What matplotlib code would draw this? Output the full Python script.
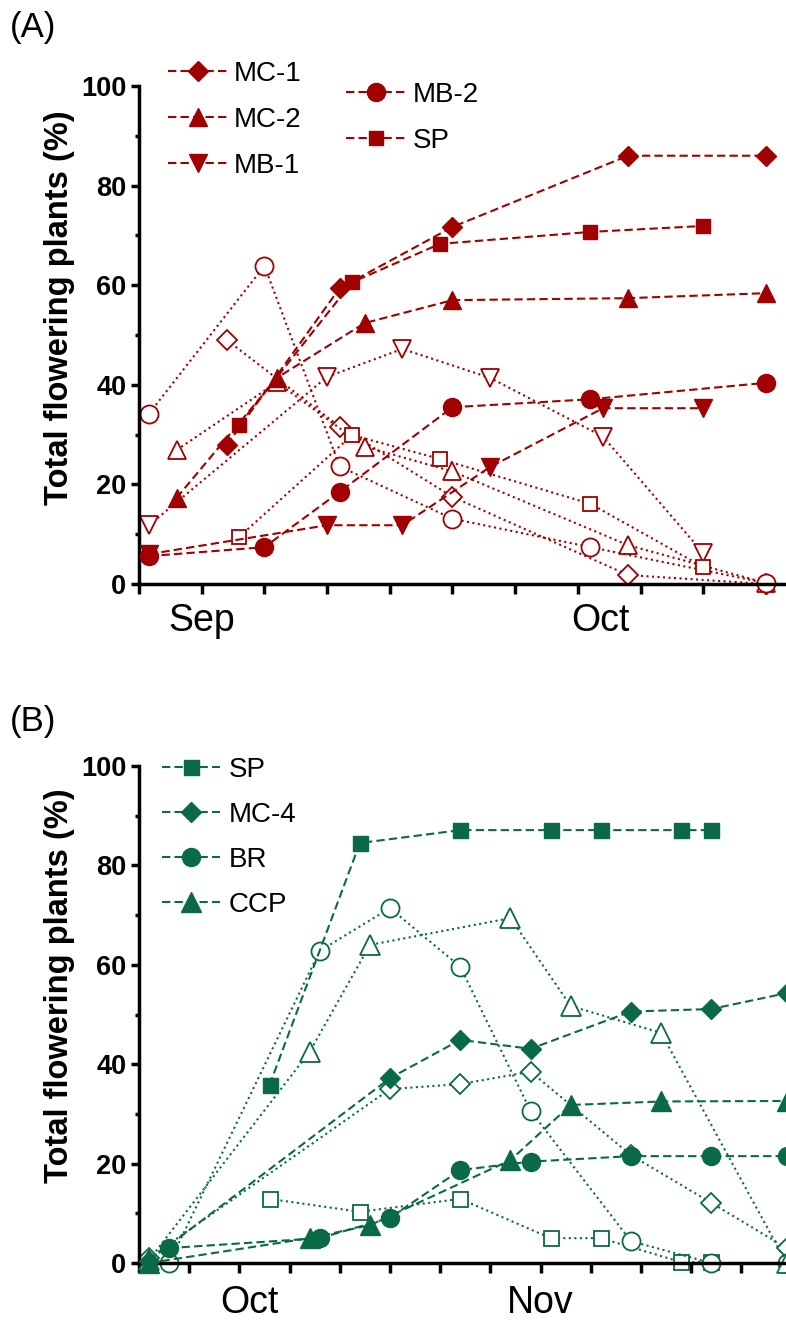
import matplotlib.pyplot as plt
from matplotlib.ticker import MultipleLocator, FixedLocator, NullFormatter

plt.rcParams['font.family'] = ['Liberation Sans', 'DejaVu Sans']

red = '#a00000'
green = '#0a6a45'

# ---- panel A (x = days from first tick) ----
mc1_days = [7, 16, 25, 39, 50]
mc1_fill = [27.9, 59.4, 71.7, 86.0, 86.0]
mc1_open = [49.0, 31.6, 17.5, 1.8, 0.0]

mc2_days = [3, 11, 18, 25, 39, 50]
mc2_fill = [17.3, 41.4, 52.4, 57.0, 57.4, 58.4]
mc2_open = [26.9, 40.5, 27.6, 22.6, 7.8, 0.2]

mb1_days = [0.8, 15, 21, 28, 37, 45]
mb1_fill = [6.0, 11.8, 11.8, 23.5, 35.3, 35.3]
mb1_open = [11.8, 41.6, 47.2, 41.4, 29.6, 6.2]

mb2_days = [0.8, 10, 16, 25, 36, 50]
mb2_fill = [5.6, 7.4, 18.5, 35.5, 37.1, 40.4]
mb2_open = [34.2, 63.9, 23.6, 13.1, 7.4, 0.2]

spA_days = [8, 17, 24, 36, 45]
spA_fill = [32.0, 60.6, 68.3, 70.7, 71.9]
spA_open = [9.5, 29.9, 25.1, 16.1, 3.4]

months_A = ['Sep', 'Oct']
months_A_pos = [5.0, 36.8]

# ---- panel B ----
spB_days = [13, 22, 32, 41, 46, 54, 57]
spB_fill = [35.8, 84.5, 87.1, 87.1, 87.1, 87.1, 87.1]
spB_open = [12.9, 10.3, 12.9, 5.0, 5.0, 0.2, 0.2]

mc4_days = [1, 25, 32, 39, 49, 57, 64.5]
mc4_fill = [0.5, 37.2, 44.9, 43.1, 50.6, 51.1, 54.3]
mc4_open = [1.0, 35.0, 36.0, 38.5, 21.7, 12.1, 3.0]

br_days = [3, 18, 25, 32, 39, 49, 57, 64.5]
br_fill = [3.0, 5.0, 9.1, 18.7, 20.4, 21.5, 21.5, 21.5]
br_open = [0.0, 62.8, 71.4, 59.6, 30.6, 4.4, 0.0, 0.0]

ccp_days = [1, 17, 23, 37, 43, 52, 64.5]
ccp_fill = [0.0, 5.0, 7.6, 20.7, 31.8, 32.5, 32.6]
ccp_open = [0.6, 42.5, 64.0, 69.4, 51.7, 46.3, 0.0]

months_B = ['Oct', 'Nov']
months_B_pos = [11.0, 40.0]

W, H = 786, 1322
fig = plt.figure(figsize=(W / 100, H / 100), dpi=100)


def px_axes(x0, y_top, x1, y_bot):
    return fig.add_axes([x0 / W, 1 - y_bot / H, (x1 - x0) / W, (y_bot - y_top) / H])


def series(ax, x, y, marker, ms, color, filled, label=None):
    if filled:
        return ax.plot(x, y, marker=marker, ms=ms, color=color, mfc=color, mec=color,
                       lw=1.5, dashes=(4, 2), clip_on=False, label=label, zorder=3)[0]
    return ax.plot(x, y, marker=marker, ms=ms, color=color, mfc='white', mec=color,
                   mew=1.3, lw=1.5, ls=':', clip_on=False, zorder=2)[0]


def style(ax, xmax, months, month_pos, lab_pad):
    ax.set_ylim(0, 100)
    ax.set_xlim(0, xmax)
    for s in ['top', 'right']:
        ax.spines[s].set_visible(False)
    for s in ['left', 'bottom']:
        ax.spines[s].set_linewidth(2.5)
    ax.yaxis.set_major_locator(MultipleLocator(20))
    ax.yaxis.set_minor_locator(MultipleLocator(10))
    ax.tick_params(axis='y', which='major', length=6, width=2.5, labelsize=19.5, pad=3)
    ax.tick_params(axis='y', which='minor', length=3, width=2.5)
    for lbl in ax.get_yticklabels():
        lbl.set_fontweight('bold')
    ax.xaxis.remove_overlapping_locs = False
    ax.xaxis.set_major_locator(MultipleLocator(5))
    ax.xaxis.set_major_formatter(NullFormatter())
    ax.xaxis.set_minor_locator(FixedLocator(month_pos))
    ax.set_xticklabels(months, minor=True)
    ax.tick_params(axis='x', which='major', length=7, width=2.5)
    ax.tick_params(axis='x', which='minor', length=0, labelsize=27, pad=lab_pad)


leg_kw = dict(loc='upper left', bbox_transform=fig.transFigure, frameon=False,
              fontsize=20, borderpad=0, borderaxespad=0, numpoints=1)

# panel A
axA = px_axes(139, 86, 139 + 52.5 * 12.54, 584)
h_mc1 = series(axA, mc1_days, mc1_fill, 'D', 10.5, red, True, 'MC-1')
h_mc2 = series(axA, mc2_days, mc2_fill, '^', 13, red, True, 'MC-2')
h_mb1 = series(axA, mb1_days, mb1_fill, 'v', 13, red, True, 'MB-1')
h_mb2 = series(axA, mb2_days, mb2_fill, 'o', 13, red, True, 'MB-2')
h_spA = series(axA, spA_days, spA_fill, 's', 10, red, True, 'SP')
series(axA, mc1_days, mc1_open, 'D', 10.5, red, False)
series(axA, mc2_days, mc2_open, '^', 13, red, False)
series(axA, mb1_days, mb1_open, 'v', 13, red, False)
series(axA, mb2_days, mb2_open, 'o', 13, red, False)
series(axA, spA_days, spA_open, 's', 10, red, False)
style(axA, 52.5, months_A, months_A_pos, 14)

legA1 = axA.legend(handles=[h_mc1, h_mc2, h_mb1], bbox_to_anchor=(168 / W, 1 - 61 / H),
                   handlelength=2.15, handletextpad=0.2, labelspacing=0.72, **leg_kw)
axA.add_artist(legA1)
axA.legend(handles=[h_mb2, h_spA], bbox_to_anchor=(346 / W, 1 - 82 / H),
           handlelength=2.15, handletextpad=0.25, labelspacing=0.72, **leg_kw)

# panel B
axB = px_axes(139, 766, 139 + 66 * 10.04, 1263)
h_spB = series(axB, spB_days, spB_fill, 's', 10.8, green, True, 'SP')
h_mc4 = series(axB, mc4_days, mc4_fill, 'D', 10, green, True, 'MC-4')
h_br = series(axB, br_days, br_fill, 'o', 13, green, True, 'BR')
h_ccp = series(axB, ccp_days, ccp_fill, '^', 14, green, True, 'CCP')
series(axB, spB_days, spB_open, 's', 10.8, green, False)
series(axB, mc4_days, mc4_open, 'D', 10, green, False)
series(axB, br_days, br_open, 'o', 13, green, False)
series(axB, ccp_days, ccp_open, '^', 14, green, False)
style(axB, 66, months_B, months_B_pos, 16)

axB.legend(handles=[h_spB, h_mc4, h_br, h_ccp], bbox_to_anchor=(162 / W, 1 - 757 / H),
           handlelength=2.1, handletextpad=0.3, labelspacing=0.68, **leg_kw)

for yc in [308, 986]:
    fig.text(60 / W, 1 - yc / H, 'Total flowering plants (%)', rotation=90,
             ha='center', va='center', fontsize=23.5, fontweight='bold')

fig.text(10 / W, 1 - 28 / H, '(A)', fontsize=25, va='center', ha='left')
fig.text(10 / W, 1 - 721 / H, '(B)', fontsize=25, va='center', ha='left')

fig.savefig('out.png', dpi=100)
